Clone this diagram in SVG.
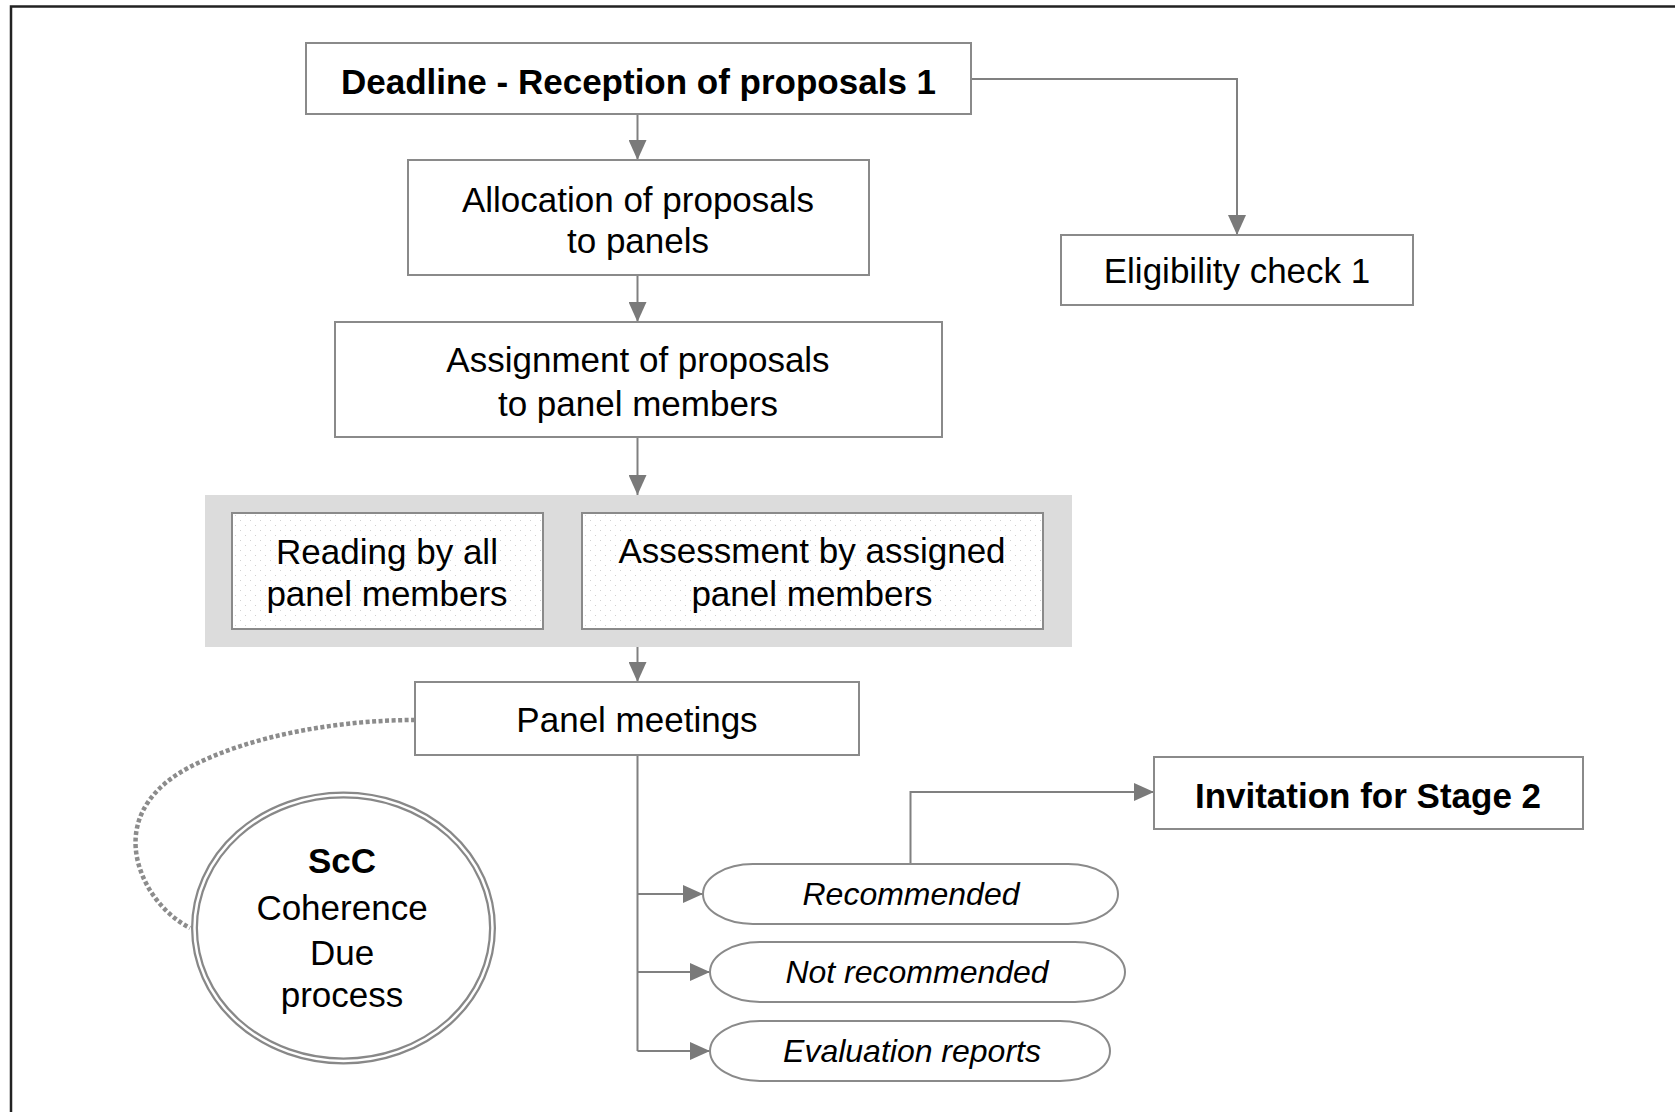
<svg xmlns="http://www.w3.org/2000/svg" width="1675" height="1112" viewBox="0 0 1675 1112">
<style>
.box{fill:#fff;stroke:#8a8a8a;stroke-width:2}
.dot{fill:url(#dots);stroke:#8a8a8a;stroke-width:2}
.t{font-family:"Liberation Sans",Arial,sans-serif;font-size:35px;fill:#000;text-anchor:middle}
.b{font-weight:bold}
.i{font-style:italic;font-size:32px}
.c{fill:none;stroke:#808080;stroke-width:2}
</style>
<defs>
<marker id="arr" markerUnits="userSpaceOnUse" markerWidth="20" markerHeight="18" refX="20" refY="9" orient="auto">
<path d="M0,0 L20,9 L0,18 z" fill="#7a7a7a"/>
</marker>
<pattern id="dots" width="10" height="10" patternUnits="userSpaceOnUse">
<rect width="10" height="10" fill="#fff"/>
<rect x="0" y="0" width="1" height="1" fill="#d0d0d0"/>
<rect x="5" y="5" width="1" height="1" fill="#d0d0d0"/>
</pattern>
</defs>
<rect width="1675" height="1112" fill="#fff"/>
<path d="M11,1112 V6.5 H1675" fill="none" stroke="#222" stroke-width="2.5"/>

<g id="connectors">
<path class="c" d="M637.5,114 V160" marker-end="url(#arr)"/>
<path class="c" d="M971,79 H1237 V235" marker-end="url(#arr)"/>
<path class="c" d="M637.5,275 V322" marker-end="url(#arr)"/>
<path class="c" d="M637.5,437 V495" marker-end="url(#arr)"/>
<path class="c" d="M637.5,647 V682" marker-end="url(#arr)"/>
<path class="c" d="M637.5,755 V1051"/>
<path class="c" d="M637.5,894 H703" marker-end="url(#arr)"/>
<path class="c" d="M637.5,972 H710" marker-end="url(#arr)"/>
<path class="c" d="M637.5,1051 H710" marker-end="url(#arr)"/>
<path class="c" d="M910.5,864 V792 H1154" marker-end="url(#arr)"/>
<path d="M415,720 C340,720 250,735 188,768 C140,794 130,830 138,862 C145,890 165,915 190,928" fill="none" stroke="#8c8c8c" stroke-width="4.5" stroke-dasharray="4 2.5"/>
</g>

<g id="deadline">
<rect class="box" x="306" y="43" width="665" height="71"/>
<text class="t b" x="638.5" y="94">Deadline - Reception of proposals 1</text>
</g>
<g id="allocation">
<rect class="box" x="408" y="160" width="461" height="115"/>
<text class="t" x="638" y="212">Allocation of proposals</text>
<text class="t" x="638" y="253">to panels</text>
</g>
<g id="eligibility">
<rect class="box" x="1061" y="235" width="352" height="70"/>
<text class="t" x="1237" y="283">Eligibility check 1</text>
</g>
<g id="assignment">
<rect class="box" x="335" y="322" width="607" height="115"/>
<text class="t" x="638" y="372">Assignment of proposals</text>
<text class="t" x="638" y="416">to panel members</text>
</g>
<g id="review-group">
<rect x="205" y="495" width="867" height="152" fill="#dcdcdc"/>
</g>
<g id="reading">
<rect class="dot" x="232" y="513" width="311" height="116"/>
<text class="t" x="387" y="564">Reading by all</text>
<text class="t" x="387" y="606">panel members</text>
</g>
<g id="assessment">
<rect class="dot" x="582" y="513" width="461" height="116"/>
<text class="t" x="812" y="563">Assessment by assigned</text>
<text class="t" x="812" y="606">panel members</text>
</g>
<g id="panel-meetings">
<rect class="box" x="415" y="682" width="444" height="73"/>
<text class="t" x="637" y="732">Panel meetings</text>
</g>
<g id="invitation">
<rect class="box" x="1154" y="757" width="429" height="72"/>
<text class="t b" x="1368" y="808">Invitation for Stage 2</text>
</g>
<g id="recommended">
<rect class="box" x="703" y="864" width="415" height="60" rx="50" ry="30"/>
<text class="t i" x="911" y="905">Recommended</text>
</g>
<g id="not-recommended">
<rect class="box" x="710" y="942" width="415" height="60" rx="50" ry="30"/>
<text class="t i" x="917" y="983">Not recommended</text>
</g>
<g id="evaluation-reports">
<rect class="box" x="710" y="1021" width="400" height="60" rx="50" ry="30"/>
<text class="t i" x="912" y="1062">Evaluation reports</text>
</g>
<g id="scc">
<ellipse cx="343.5" cy="928" rx="149" ry="133" fill="#fff" stroke="#888" stroke-width="7"/>
<ellipse cx="343.5" cy="928" rx="149" ry="133" fill="none" stroke="#fff" stroke-width="2.5"/>
<text class="t b" x="342" y="873">ScC</text>
<text class="t" x="342" y="920">Coherence</text>
<text class="t" x="342" y="965">Due</text>
<text class="t" x="342" y="1007">process</text>
</g>
</svg>
